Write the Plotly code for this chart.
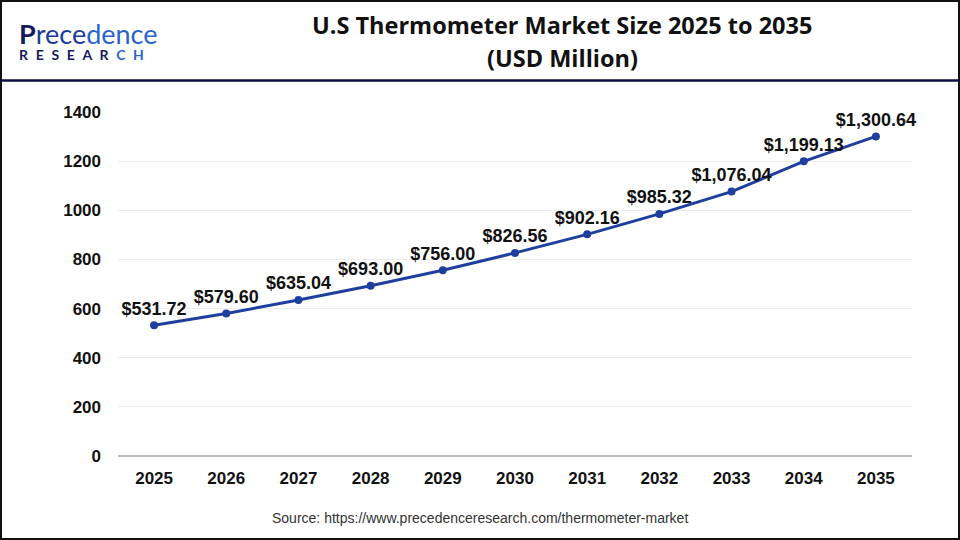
import plotly.graph_objects as go

years = ["2025", "2026", "2027", "2028", "2029", "2030", "2031", "2032", "2033", "2034", "2035"]
values = [531.72, 579.60, 635.04, 693.00, 756.00, 826.56, 902.16, 985.32, 1076.04, 1199.13, 1300.64]
labels = ["$531.72", "$579.60", "$635.04", "$693.00", "$756.00", "$826.56", "$902.16",
          "$985.32", "$1,076.04", "$1,199.13", "$1,300.64"]
y_ticks = [0, 200, 400, 600, 800, 1000, 1200, 1400]

W, H = 960, 540
L, R, T, B = 118, 48, 112, 84
PW, PH = W - L - R, H - T - B


def px(x):
    return (x - L) / PW


def py(y):
    return (H - B - y) / PH


fig = go.Figure()
fig.add_trace(go.Scatter(
    x=years, y=values, mode="lines+markers+text",
    line=dict(color="#1f3f9e", width=3),
    marker=dict(color="#1f3f9e", size=8),
    text=labels, textposition="top center",
    textfont=dict(family="Liberation Sans, Arial, sans-serif", size=18, color="#111111", weight="bold"),
    cliponaxis=False, hoverinfo="skip",
))

shapes = [
    dict(type="rect", xref="paper", yref="paper", x0=px(1), x1=px(959), y0=py(539), y1=py(1),
         line=dict(color="#111111", width=2), fillcolor="rgba(0,0,0,0)", layer="above"),
    dict(type="line", xref="paper", yref="paper", x0=px(1), x1=px(959), y0=py(80.5), y1=py(80.5),
         line=dict(color="#0d0d3f", width=2.5)),
]

sp = "\u00a0\u00a0\u200a"
research = sp.join(list("RESEAR"))
logo_text = ("<span style='font-size:27px'><span style='color:#161a5c'><b>P</b></span>"
             "<span style='color:#1b3c9a'>rece</span><span style='color:#2a63cf'>dence</span></span><br>"
             "<span style='font-size:14px'><b><span style='color:#161a5c'>" + research + sp + "</span>"
             "<span style='color:#2a63cf'>C" + sp + "H</span></b></span>")

annotations = [
    dict(text="U.S Thermometer Market Size 2025 to 2035", x=px(562), y=py(25), xref="paper", yref="paper",
         showarrow=False, xanchor="center", yanchor="middle",
         font=dict(family="Open Sans, sans-serif", size=23.5, color="#111111", weight="bold")),
    dict(text="(USD Million)", x=px(562), y=py(58), xref="paper", yref="paper",
         showarrow=False, xanchor="center", yanchor="middle",
         font=dict(family="Open Sans, sans-serif", size=23.5, color="#111111", weight="bold")),
    dict(text=logo_text, x=px(17), y=py(40), xref="paper", yref="paper", showarrow=False,
         xanchor="left", yanchor="middle", align="left",
         font=dict(family="Lato, sans-serif", size=12, color="#1b3c9a")),
    dict(text="Source: https://www.precedenceresearch.com/thermometer-market", x=px(480), y=py(518),
         xref="paper", yref="paper", showarrow=False, xanchor="center", yanchor="middle",
         font=dict(family="Liberation Sans, Arial, sans-serif", size=14, color="#333333")),
]

fig.update_layout(
    width=W, height=H,
    margin=dict(l=L, r=R, t=T, b=B),
    paper_bgcolor="white", plot_bgcolor="white",
    showlegend=False,
    shapes=shapes, annotations=annotations,
    xaxis=dict(type="category", range=[-0.5, 10.5], showgrid=False, showline=False, zeroline=False,
               ticks="", tickfont=dict(family="Liberation Sans, Arial, sans-serif", size=17, color="#111111", weight="bold"),
               ticklabelstandoff=10),
    yaxis=dict(range=[0, 1400], tickvals=y_ticks, showgrid=True, gridcolor="#ececec", gridwidth=1,
               zeroline=True, zerolinecolor="#bbbbbb", zerolinewidth=2, showline=False, ticks="",
               tickfont=dict(family="Liberation Sans, Arial, sans-serif", size=17, color="#111111", weight="bold"),
               ticklabelstandoff=16),
)

fig.write_html("out.html", config={"displayModeBar": False},
               post_script="document.body.style.margin='0';document.body.style.overflow='hidden';")
